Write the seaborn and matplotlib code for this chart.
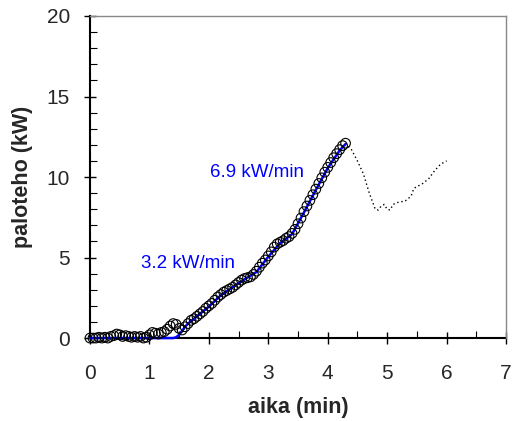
import numpy as np
import pandas as pd
import matplotlib
matplotlib.use("Agg")
import matplotlib.pyplot as plt
import seaborn as sns
from matplotlib.ticker import MultipleLocator

# measured heat release (circles)
time_min = [0.00, 0.05, 0.10, 0.15, 0.20, 0.25, 0.30, 0.35, 0.40, 0.45,
            0.50, 0.55, 0.60, 0.65, 0.70, 0.75, 0.80, 0.85, 0.90, 0.95,
            1.00, 1.05, 1.10, 1.15, 1.20, 1.25, 1.30, 1.35, 1.40, 1.45,
            1.50, 1.55, 1.60, 1.65, 1.70, 1.75, 1.80, 1.85, 1.90, 1.95,
            2.00, 2.05, 2.10, 2.15, 2.20, 2.25, 2.30, 2.35, 2.40, 2.45,
            2.50, 2.55, 2.60, 2.65, 2.70, 2.75, 2.80, 2.85, 2.90, 2.95,
            3.00, 3.05, 3.10, 3.15, 3.20, 3.25, 3.30, 3.35, 3.40, 3.45,
            3.50, 3.55, 3.60, 3.65, 3.70, 3.75, 3.80, 3.85, 3.90, 3.95,
            4.00, 4.05, 4.10, 4.15, 4.20, 4.25, 4.30]
hrr_kw = [0.0, 0.0, 0.0, 0.05, 0.0, 0.05, 0.0, 0.1, 0.15, 0.25,
          0.2, 0.1, 0.15, 0.1, 0.05, 0.1, 0.05, 0.1, 0.0, 0.05,
          0.2, 0.35, 0.3, 0.25, 0.35, 0.4, 0.55, 0.75, 0.9, 0.85,
          0.6, 0.5, 0.7, 0.9, 1.1, 1.2, 1.35, 1.5, 1.65, 1.85,
          2.0, 2.15, 2.35, 2.55, 2.7, 2.85, 2.95, 3.05, 3.15, 3.3,
          3.45, 3.6, 3.7, 3.75, 3.8, 3.95, 4.15, 4.4, 4.65, 4.85,
          5.1, 5.35, 5.65, 5.85, 5.95, 6.05, 6.2, 6.3, 6.5, 6.75,
          7.1, 7.45, 7.85, 8.2, 8.55, 8.9, 9.25, 9.6, 9.95, 10.3,
          10.6, 10.9, 11.2, 11.45, 11.7, 11.95, 12.1]

# fitted curve (blue)
fit_time = [0.0, 1.0, 1.40, 1.45, 1.50, 1.55, 1.60, 1.65, 1.70, 1.80, 1.90,
            2.00, 2.20, 2.40, 2.60, 2.80, 3.00, 3.20, 3.40, 3.60, 3.80,
            4.00, 4.20, 4.30]
fit_kw = [0.0, 0.0, 0.0, 0.05, 0.2, 0.45, 0.7, 0.9, 1.05, 1.35, 1.65,
          1.95, 2.65, 3.15, 3.65, 4.1, 5.05, 5.9, 6.45, 7.8, 9.2,
          10.55, 11.65, 12.05]

# continuation after the test (dotted)
tail_time = [4.30, 4.40, 4.50, 4.60, 4.65, 4.70, 4.75, 4.80, 4.85, 4.90,
             4.95, 5.00, 5.05, 5.10, 5.20, 5.30, 5.40, 5.45, 5.50, 5.60,
             5.70, 5.80, 5.90, 6.00]
tail_kw = [12.1, 11.7, 11.0, 10.2, 9.6, 9.0, 8.5, 8.0, 7.95, 8.2,
           8.3, 8.0, 7.95, 8.3, 8.45, 8.5, 8.8, 9.3, 9.4, 9.6,
           9.9, 10.4, 10.8, 11.0]

slope_labels = ["3.2 kW/min", "6.9 kW/min"]

sns.set_style("ticks")
plt.rcParams['font.family'] = ['Liberation Sans', 'DejaVu Sans']

fig = plt.figure(figsize=(5.13, 4.21), dpi=100)
ax = fig.add_axes([0.1754, 0.197, 0.811, 0.765])

meas = pd.DataFrame({"t": time_min, "q": hrr_kw})
fit = pd.DataFrame({"t": fit_time, "q": fit_kw})
tail = pd.DataFrame({"t": tail_time, "q": tail_kw})

sns.lineplot(data=tail, x="t", y="q", ax=ax, color="black", lw=1.0,
             linestyle=(0, (1, 2)), sort=False)
sns.lineplot(data=fit, x="t", y="q", ax=ax, color="#0000ff", lw=1.8, sort=False,
             zorder=4)
sns.scatterplot(data=meas, x="t", y="q", ax=ax, marker="o", s=48,
                facecolor="none", edgecolor="black", linewidth=0.8, zorder=5)
for art in ax.lines + ax.collections:
    art.set_clip_on(False)

ax.text(1.65, 4.66, slope_labels[0], color="#0000ff", fontsize=13.5,
        ha="center", va="center")
ax.text(2.81, 10.3, slope_labels[1], color="#0000ff", fontsize=13.5,
        ha="center", va="center")

ax.set_xlim(0, 7)
ax.set_ylim(0, 20)
ax.xaxis.set_major_locator(MultipleLocator(1))
ax.xaxis.set_minor_locator(MultipleLocator(0.5))
ax.yaxis.set_major_locator(MultipleLocator(5))
ax.yaxis.set_minor_locator(MultipleLocator(1))
ax.tick_params(which="major", direction="inout", length=9, width=1.0,
               labelsize=15, color="black")
ax.tick_params(which="minor", direction="in", length=5, width=0.8, color="black")
ax.tick_params(axis="x", which="major", pad=14)
ax.tick_params(axis="y", which="major", pad=10)

for side in ["left", "bottom"]:
    ax.spines[side].set_color("black")
    ax.spines[side].set_linewidth(1.5)
    ax.spines[side].set_zorder(2)
for side in ["top", "right"]:
    ax.spines[side].set_visible(True)
    ax.spines[side].set_color("#888888")
    ax.spines[side].set_linewidth(1.0)

ax.set_xlabel("aika (min)", fontsize=15.5, fontweight="bold", labelpad=10)
ax.set_ylabel("paloteho (kW)", fontsize=15.5, fontweight="bold", labelpad=10)

fig.savefig("out.png", dpi=100)
